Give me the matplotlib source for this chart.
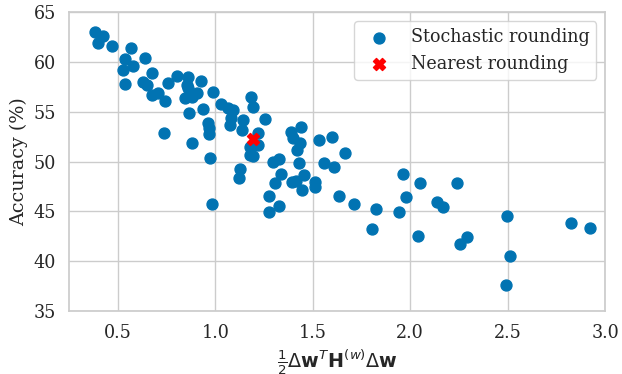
import numpy as np
import matplotlib
matplotlib.use('Agg')
import matplotlib.pyplot as plt
import seaborn as sns

# stochastic rounding runs: (0.5 dw^T H dw, accuracy)
stoch_x = [0.385, 0.426, 0.400, 0.472, 0.569, 0.641, 0.538, 0.580, 0.528, 0.677,
           0.805, 0.862, 0.928, 0.631, 0.759, 0.538, 0.651, 0.857, 0.862, 0.990,
           0.908, 0.677, 0.708, 0.882, 0.846, 0.744, 1.031, 0.939, 1.067, 1.093,
           0.867, 1.082, 1.077, 1.144, 1.139, 1.185, 1.195, 0.964, 0.970, 0.970,
           0.739, 0.882, 0.975, 1.129, 1.123, 0.985, 1.257, 1.221, 1.221, 1.180,
           1.180, 1.195, 1.390, 1.441, 1.400, 1.436, 1.421, 1.534, 1.601, 1.667,
           1.298, 1.329, 1.431, 1.339, 1.308, 1.395, 1.416, 1.457, 1.446, 1.513,
           1.513, 1.560, 1.611, 1.637, 1.277, 1.329, 1.277, 1.713, 1.826, 1.806,
           1.944, 1.965, 2.052, 1.980, 2.042, 2.242, 2.139, 2.170, 2.257, 2.293,
           2.498, 2.514, 2.493, 2.822, 2.924]
stoch_acc = [63.01, 62.61, 61.90, 61.60, 61.40, 60.40, 60.30, 59.59, 59.19, 58.89,
             58.59, 58.49, 58.08, 57.98, 57.88, 57.78, 57.68, 57.68, 57.38, 56.98,
             56.88, 56.68, 56.88, 56.48, 56.38, 56.08, 55.78, 55.27, 55.37, 55.17,
             54.87, 54.37, 53.66, 54.17, 53.16, 56.48, 55.47, 53.86, 53.36, 52.76,
             52.86, 51.85, 50.35, 49.24, 48.33, 45.72, 54.27, 52.86, 51.65, 51.45,
             50.65, 50.55, 52.96, 53.46, 52.36, 51.85, 51.15, 52.16, 52.46, 50.85,
             49.95, 50.25, 49.84, 48.74, 47.84, 47.94, 48.04, 48.64, 47.13, 47.94,
             47.43, 49.84, 49.44, 46.53, 46.53, 45.52, 44.92, 45.72, 45.22, 43.21,
             44.92, 48.74, 47.84, 46.43, 42.51, 47.84, 45.93, 45.42, 41.70, 42.41,
             44.52, 40.50, 37.58, 43.81, 43.31]

# nearest rounding
near_x = [1.195]
near_acc = [52.26]

sns.set_theme(style='whitegrid', font='serif', font_scale=1.15)

fig, ax = plt.subplots(figsize=(6.22, 3.74), dpi=100)
fig.subplots_adjust(left=0.111, right=0.973, top=0.967, bottom=0.169)

ax.scatter(stoch_x, stoch_acc, s=62, color='#0173B2', label='Stochastic rounding', zorder=2)
ax.scatter(near_x, near_acc, s=75, color='red', marker='X', label='Nearest rounding', zorder=3)

ax.set_xlim(0.25, 3.0)
ax.set_ylim(35, 65)
ax.set_xlabel(r'$\frac{1}{2}\Delta\mathbf{w}^T\mathbf{H}^{(w)}\Delta\mathbf{w}$')
ax.set_ylabel('Accuracy (%)')
ax.legend(loc='upper right')

plt.savefig('out.png', dpi=100)
